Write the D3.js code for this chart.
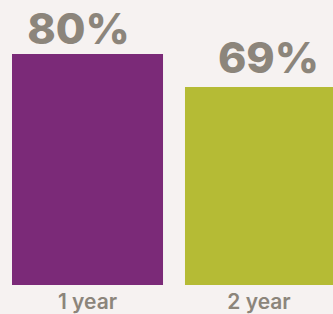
<!DOCTYPE html>
<html lang="en">
<head>
    <meta charset="utf-8">
    <script src="https://cdn.jsdelivr.net/npm/d3@7"></script>
    <style>
        body {
            margin: 0;
            background: #f6f2f1;
        }
        svg {
            display: block;
        }
        .value {
            font-family: Inter, sans-serif;
            font-weight: 800;
            font-size: 43px;
            fill: #8c857b;
            text-anchor: middle;
        }
        .cat {
            font-family: Inter, sans-serif;
            font-weight: 600;
            font-size: 21px;
            fill: #8c857b;
            text-anchor: middle;
        }
    </style>
</head>
<body>
<script>
    let categories = ['1 year', '2 year'];
    let values = [80, 69];
    let colors = ['#7b2a78', '#b5bb35'];

    let width = 333, height = 314;
    let bottom = 285;

    let svg = d3.select('body').append('svg')
        .attr('width', width).attr('height', height);

    let x = d3.scaleBand().domain(categories).range([12, 336]).paddingInner(0.127);
    let y = d3.scaleLinear().domain([0, 100]).range([294, -6]);

    // small nudges so the labels sit like in the original
    let labelDx = [-9, 8];
    let labelDy = [-10, -14];

    svg.append('g').selectAll('rect')
        .data(values)
        .enter().append('rect')
        .attr('x', (d, i) => x(categories[i]))
        .attr('y', d => y(d))
        .attr('width', x.bandwidth())
        .attr('height', d => bottom - y(d))
        .attr('fill', (d, i) => colors[i]);

    svg.append('g').selectAll('text')
        .data(values)
        .enter().append('text')
        .attr('class', 'value')
        .attr('x', (d, i) => x(categories[i]) + x.bandwidth() / 2 + labelDx[i])
        .attr('y', (d, i) => y(d) + labelDy[i])
        .text(d => d + '%');

    svg.append('g').selectAll('text')
        .data(categories)
        .enter().append('text')
        .attr('class', 'cat')
        .attr('x', d => Math.min(x(d) + x.bandwidth() / 2, (x(d) + width) / 2))
        .attr('y', 309)
        .text(d => d);
</script>
</body>
</html>
